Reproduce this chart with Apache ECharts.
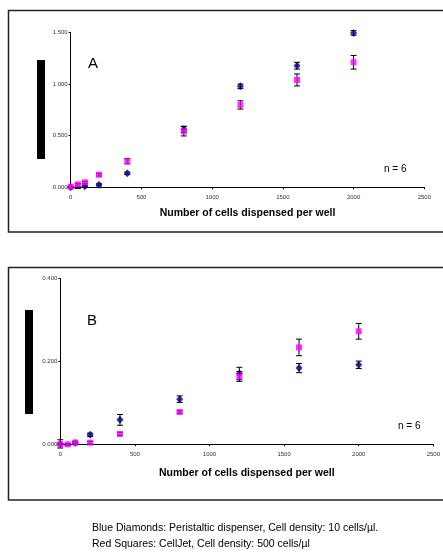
<!DOCTYPE html>
<html>
<head>
<meta charset="utf-8">
<script src="https://cdn.jsdelivr.net/npm/echarts@6/dist/echarts.min.js"></script>
<style>
  html, body { margin: 0; padding: 0; background: #fff; }
  #chart { width: 443px; height: 556px; }
</style>
</head>
<body>
<div id="chart"></div>
<script>
// cells dispensed per well
const cellsA = [0, 50, 100, 200, 400, 800, 1200, 1600, 2000]
const cellsB = [0, 50, 100, 200, 400, 800, 1200, 1600, 2000]

// panel A
const blueA = [0.000, -0.003, 0.010, 0.024, 0.135, 0.561, 0.977, 1.177, 1.494]
const blueErrA = [0.005, 0.008, 0.010, 0.010, 0.012, 0.030, 0.022, 0.033, 0.022]
const pinkA = [0.005, 0.029, 0.048, 0.122, 0.252, 0.542, 0.797, 1.039, 1.210]
const pinkErrA = [0.004, 0.008, 0.010, 0.012, 0.025, 0.045, 0.040, 0.058, 0.066]

// panel B
const blueB = [0.001, -0.001, 0.003, 0.023, 0.059, 0.109, 0.171, 0.184, 0.192]
const blueErrB = [0.010, 0.002, 0.003, 0.004, 0.013, 0.008, 0.015, 0.011, 0.009]
const pinkB = [0.000, 0.000, 0.004, 0.004, 0.025, 0.078, 0.164, 0.234, 0.273]
const pinkErrB = [0.002, 0.002, 0.003, 0.003, 0.004, 0.003, 0.012, 0.020, 0.019]

const xTicks = [0, 500, 1000, 1500, 2000, 2500]
const yTicksA = [0, 0.5, 1.0, 1.5]
const yTicksB = [0, 0.2, 0.4]

const NAVY = '#000080'
const PINK = '#ff00ff'
const FONT = '"Liberation Sans", Arial, sans-serif'

function pts (xs, ys) {
  return xs.map((x, i) => [x, ys[i]])
}

function errData (xs, ys, errs) {
  return xs.map((x, i) => [x, ys[i] - errs[i], ys[i] + errs[i]])
}

function errSeries (idx, data) {
  return {
    type: 'custom',
    xAxisIndex: idx,
    yAxisIndex: idx,
    z: 1,
    silent: true,
    data,
    renderItem (params, api) {
      const lo = api.coord([api.value(0), api.value(1)])
      const hi = api.coord([api.value(0), api.value(2)])
      const cap = 3
      const style = { stroke: '#000', lineWidth: 1 }
      return {
        type: 'group',
        children: [
          { type: 'line', shape: { x1: lo[0], y1: lo[1], x2: hi[0], y2: hi[1] }, style },
          { type: 'line', shape: { x1: lo[0] - cap, y1: lo[1], x2: lo[0] + cap, y2: lo[1] }, style },
          { type: 'line', shape: { x1: hi[0] - cap, y1: hi[1], x2: hi[0] + cap, y2: hi[1] }, style }
        ]
      }
    }
  }
}

function xAxisOf (idx, gap) {
  return {
    type: 'value',
    gridIndex: idx,
    min: 0,
    max: 2500,
    interval: 500,
    name: 'Number of cells dispensed per well',
    nameLocation: 'middle',
    nameGap: gap,
    nameTextStyle: { fontFamily: FONT, fontSize: 10.5, fontWeight: 'bold', color: '#000' },
    splitLine: { show: false },
    axisLine: { lineStyle: { color: '#000', width: 1 } },
    axisTick: { show: true, length: 2, lineStyle: { color: '#000' } },
    axisLabel: {
      fontFamily: FONT, fontSize: 6, color: '#333', margin: 7,
      formatter: v => (xTicks.includes(v) ? String(v) : '')
    }
  }
}

function yAxisOf (idx, max, interval, ticks) {
  return {
    type: 'value',
    gridIndex: idx,
    min: 0,
    max,
    interval,
    splitLine: { show: false },
    axisLine: { show: true, lineStyle: { color: '#000', width: 1 } },
    axisTick: { show: true, length: 2, lineStyle: { color: '#000' } },
    axisLabel: {
      fontFamily: FONT, fontSize: 6, color: '#333', margin: 3,
      formatter: v => (ticks.some(t => Math.abs(t - v) < 1e-9) ? v.toFixed(3) : '')
    }
  }
}

function blueSeries (idx, data) {
  return {
    type: 'scatter', xAxisIndex: idx, yAxisIndex: idx, z: 3,
    symbol: 'diamond', symbolSize: [7, 8],
    itemStyle: { color: NAVY }, data
  }
}

function pinkSeries (idx, data) {
  return {
    type: 'scatter', xAxisIndex: idx, yAxisIndex: idx, z: 4,
    symbol: 'rect', symbolSize: 6,
    itemStyle: { color: PINK }, data
  }
}

const chart = echarts.init(document.getElementById('chart'))

chart.setOption({
  animation: false,
  backgroundColor: '#fff',
  grid: [
    { left: 70.7, right: 18.7, top: 32.3, bottom: 368.7 },
    { left: 60.3, right: 8.7, top: 278.7, bottom: 111.7 }
  ],
  xAxis: [xAxisOf(0, 20), xAxisOf(1, 23)],
  yAxis: [yAxisOf(0, 1.5, 0.5, yTicksA), yAxisOf(1, 0.4, 0.2, yTicksB)],
  graphic: [
    // panel frames
    { type: 'rect', shape: { x: 8.5, y: 10.5, width: 437, height: 221.5 }, style: { fill: null, stroke: '#222', lineWidth: 1.5 }, z: 100 },
    { type: 'rect', shape: { x: 8.5, y: 267.5, width: 437, height: 232.5 }, style: { fill: null, stroke: '#222', lineWidth: 1.5 }, z: 100 },
    // redacted y-axis titles
    { type: 'rect', shape: { x: 37, y: 60, width: 8, height: 99 }, style: { fill: '#000' } },
    { type: 'rect', shape: { x: 25, y: 310, width: 8, height: 104 }, style: { fill: '#000' } },
    // panel letters
    { type: 'text', x: 93, y: 64, style: { text: 'A', fontFamily: FONT, fontSize: 15, fill: '#000', align: 'center', verticalAlign: 'middle' } },
    { type: 'text', x: 92, y: 321, style: { text: 'B', fontFamily: FONT, fontSize: 15, fill: '#000', align: 'center', verticalAlign: 'middle' } },
    // n labels
    { type: 'text', x: 384, y: 169, style: { text: 'n = 6', fontFamily: FONT, fontSize: 10, fill: '#000', verticalAlign: 'middle' } },
    { type: 'text', x: 398, y: 426, style: { text: 'n = 6', fontFamily: FONT, fontSize: 10, fill: '#000', verticalAlign: 'middle' } },
    // footnote
    { type: 'text', x: 92, y: 528, style: { text: 'Blue Diamonds: Peristaltic dispenser, Cell density: 10 cells/µl.', fontFamily: FONT, fontSize: 10.5, fill: '#000', verticalAlign: 'middle' } },
    { type: 'text', x: 92, y: 544, style: { text: 'Red Squares: CellJet, Cell density: 500 cells/µl', fontFamily: FONT, fontSize: 10.5, fill: '#000', verticalAlign: 'middle' } }
  ],
  series: [
    errSeries(0, errData(cellsA, blueA, blueErrA)),
    errSeries(0, errData(cellsA, pinkA, pinkErrA)),
    blueSeries(0, pts(cellsA, blueA)),
    pinkSeries(0, pts(cellsA, pinkA)),
    errSeries(1, errData(cellsB, blueB, blueErrB)),
    errSeries(1, errData(cellsB, pinkB, pinkErrB)),
    blueSeries(1, pts(cellsB, blueB)),
    pinkSeries(1, pts(cellsB, pinkB))
  ]
})
</script>
</body>
</html>
